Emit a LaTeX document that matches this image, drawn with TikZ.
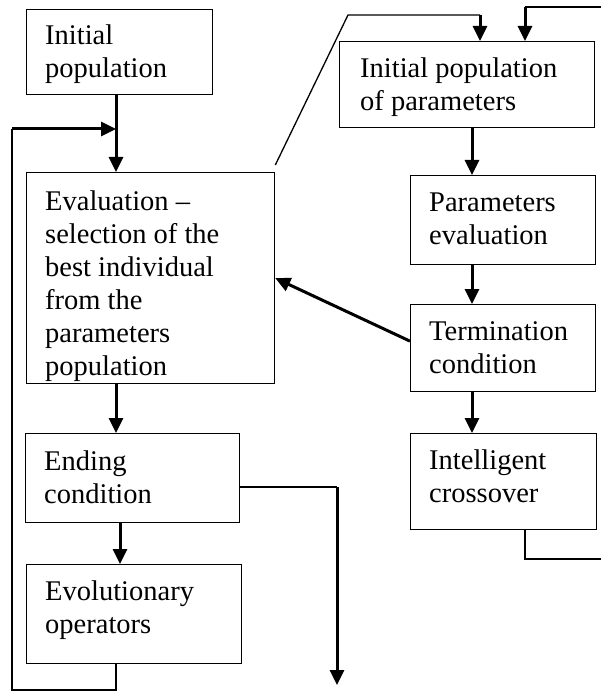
\documentclass[tikz,border=0pt]{standalone}
\usepackage{fontspec}
\setmainfont{Liberation Serif}
\usetikzlibrary{arrows.meta}
\begin{document}
\begin{tikzpicture}[x=1pt,y=-1pt,
    box/.style={draw, line width=1.3pt, inner sep=0pt, anchor=north west},
    txt/.style={inner sep=0pt, anchor=base west, align=left,
        font=\fontsize{28.5}{33}\selectfont},
    link/.style={line width=1.3pt},
    flow/.style={line width=3pt, -{Triangle[width=14pt,length=15pt]}}]
    \useasboundingbox (0,0) rectangle (601,692);

    % left column (text placed by the baseline of its last line)
    \node[box, minimum width=186pt, minimum height=85pt] (b1) at (26,9) {};
    \node[box, minimum width=248pt, minimum height=211pt] (b2) at (26,172) {};
    \node[box, minimum width=214pt, minimum height=89pt] (b3) at (25,433) {};
    \node[box, minimum width=215pt, minimum height=99pt] (b4) at (26,564) {};
    \node[txt] (t1) at (45,78) {Initial\\population};
    \node[txt] (t2) at (45,375) {Evaluation --\\selection of the\\best individual\\from the\\parameters\\population};
    \node[txt] (t3) at (44,503) {Ending\\condition};
    \node[txt] (t4) at (45,633) {Evolutionary\\operators};

    % right column
    \node[box, minimum width=255pt, minimum height=86pt] (r1) at (339,41) {};
    \node[box, minimum width=185pt, minimum height=89pt] (r2) at (410,175) {};
    \node[box, minimum width=185pt, minimum height=87pt] (r3) at (410,304) {};
    \node[box, minimum width=186pt, minimum height=96pt] (r4) at (410,433) {};
    \node[txt] (s1) at (360,111) {Initial population\\of parameters};
    \node[txt] (s2) at (429,245) {Parameters\\evaluation};
    \node[txt] (s3) at (429,373) {Termination\\condition};
    \node[txt] (s4) at (429,502) {Intelligent\\crossover};

    % x positions of the vertical connectors
    \coordinate (xa) at (116,0);
    \coordinate (xb) at (120,0);
    \coordinate (xr) at (472,0);
    \coordinate (xt) at (480,0);
    \coordinate (xu) at (525,0);

    \draw[flow] (b1.south -| xa) -- (b2.north -| xa);
    \draw[flow] (b2.south -| xa) -- (b3.north -| xa);
    \draw[flow] (b3.south -| xb) -- (b4.north -| xb);

    \draw[flow] (r1.south -| xr) -- (r2.north -| xr);
    \draw[flow] (r2.south -| xr) -- (r3.north -| xr);
    \draw[flow] (r3.south -| xr) -- (r4.north -| xr);

    % loop back from the operators
    \coordinate (l1) at (116,690);
    \coordinate (l2) at (12,690);
    \coordinate (l3) at (12,129);
    \draw[link] (b4.south -| l1) -- (l1) -- (l2) -- (l3);
    \draw[flow] (l3) -- (l3 -| xa);

    % exit of the ending condition
    \coordinate (e1) at (337,487);
    \coordinate (e2) at (337,685);
    \draw[link] (b3.east |- e1) -- (e1);
    \draw[flow] (e1) -- (e2);

    % links between the two loops
    \draw[flow] ([yshift=7pt]r3.west) -- (b2.east);
    \coordinate (d1) at (348,15);
    \draw[link] ([yshift=7pt]b2.north east) -- (d1) -- (d1 -| xt);
    \draw[flow] (d1 -| xt) -- (r1.north -| xt);

    \coordinate (c1) at (601,7);
    \draw[link] (c1) -- (c1 -| xu);
    \draw[flow] (c1 -| xu) -- (r1.north -| xu);
    \coordinate (c2) at (601,559);
    \draw[link] (r4.south -| xu) -- (c2 -| xu) -- (c2);
\end{tikzpicture}
\end{document}
